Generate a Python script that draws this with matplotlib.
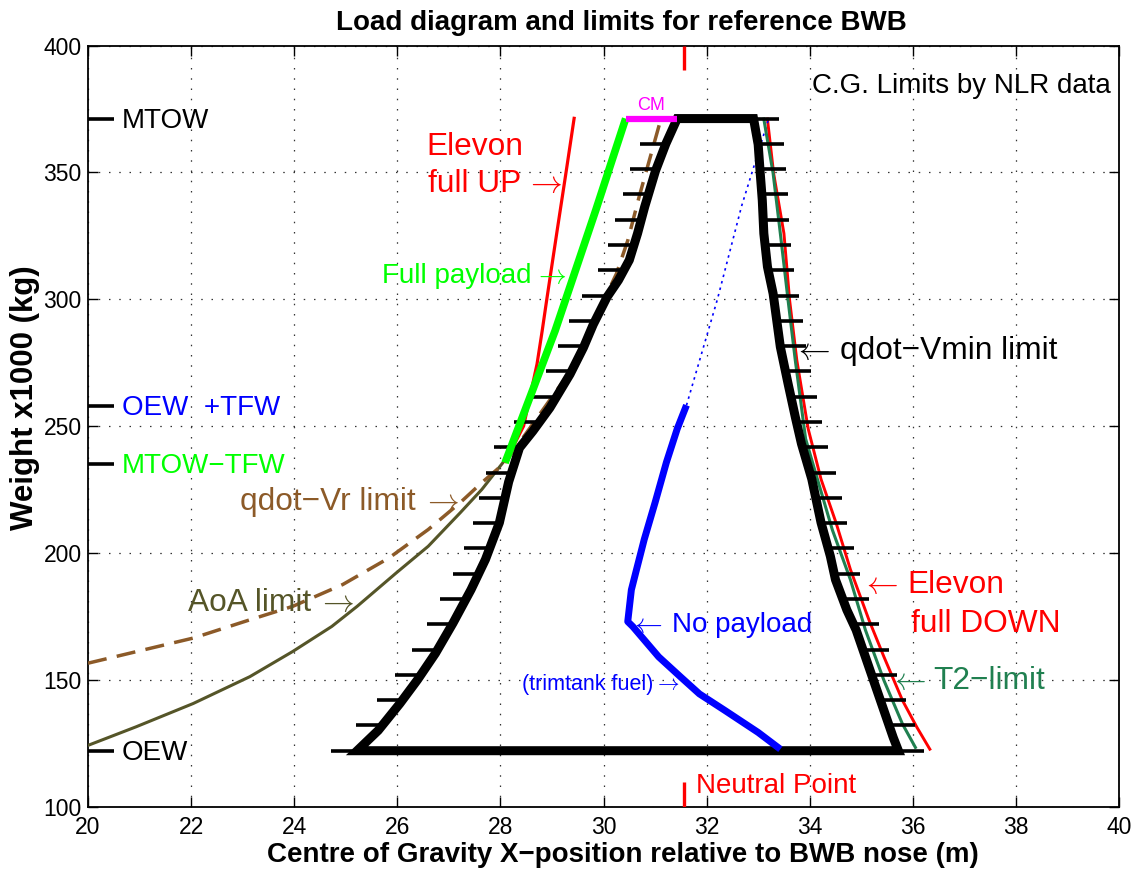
import numpy as np
import matplotlib
matplotlib.use("Agg")
import matplotlib.pyplot as plt
from matplotlib.patches import Polygon

plt.rcParams['font.family'] = ['Liberation Sans', 'DejaVu Sans']
plt.rcParams['axes.unicode_minus'] = True
plt.rcParams['mathtext.fontset'] = 'cm'

RARR = r'$\rightarrow$'
LARR = r'$\leftarrow$'

# Reference weights (x1000 kg)
OEW = 122.0
MTOW = 371.2
TFW = 136.0
neutral_point = 31.57

# Loading envelope: forward boundary (bottom -> top), aft boundary (top -> bottom)
fwd_x = [25.22, 25.63, 26.05, 26.39, 26.74, 27.08, 27.43, 27.71, 27.98, 28.16,
         28.37, 28.63, 28.96, 29.35, 29.61, 29.80, 30.07, 30.29, 30.50, 30.66,
         30.80, 31.01, 31.21, 31.43]
fwd_w = [122.0, 130.0, 140.6, 149.9, 160.4, 172.3, 185.5, 197.4, 211.9, 228.0,
         241.4, 248.0, 257.2, 270.4, 280.9, 290.0, 300.9, 307.5, 315.4, 325.9,
         336.5, 350.7, 361.3, 371.2]
aft_x = [32.91, 33.00, 33.04, 33.08, 33.11, 33.18, 33.29, 33.36, 33.43, 33.58,
         33.72, 33.84, 34.04, 34.22, 34.40, 34.50, 34.72, 34.90, 35.08, 35.26,
         35.44, 35.62, 35.72]
aft_w = [371.2, 361.0, 349.6, 339.0, 325.9, 312.8, 302.2, 291.7, 281.2, 266.7,
         253.6, 243.0, 229.1, 211.9, 198.7, 189.4, 177.5, 169.6, 159.0, 148.4,
         137.8, 127.2, 122.0]

# Full payload loading line
full_x = [28.09, 28.60, 29.06, 29.50, 29.85, 30.15, 30.43]
full_w = [235.5, 262.8, 287.5, 314.0, 335.1, 353.8, 371.2]

# No payload loading (trim tank fuel), solid part and dotted extension
nopl_x = [33.43, 33.00, 32.36, 31.86, 31.50, 31.07, 30.57, 30.47, 30.54, 30.64,
          30.79, 31.00, 31.22, 31.43, 31.61]
nopl_w = [122.6, 129.2, 137.8, 144.4, 151.0, 159.0, 170.9, 172.9, 185.4, 193.4,
          205.3, 219.8, 235.7, 248.9, 258.2]
nopl_ext_x = [31.61, 32.21, 32.68, 33.20]
nopl_ext_w = [258.2, 300.0, 336.8, 370.9]

# Elevon full UP (forward limit)
elev_up_x = [28.10, 28.30, 28.45, 28.71, 28.81, 28.90, 29.10, 29.27, 29.43]
elev_up_w = [236.0, 244.0, 250.0, 274.4, 287.5, 300.0, 327.0, 349.6, 371.3]

# Elevon full DOWN (aft limit)
elev_dn_x = [33.18, 33.30, 33.50, 33.61, 33.75, 33.97, 34.22, 34.51, 34.79, 35.15,
             35.44, 35.80, 36.08, 36.33]
elev_dn_w = [371.0, 349.6, 325.9, 299.6, 275.9, 248.9, 229.0, 211.9, 193.4, 173.5,
             159.0, 141.8, 131.2, 122.6]

# T2 limit (aft)
t2_x = [33.11, 33.29, 33.43, 33.58, 33.72, 33.92, 34.15, 34.44, 34.79, 35.08,
        35.44, 35.80, 36.05]
t2_w = [371.0, 349.6, 325.9, 299.6, 275.9, 245.0, 229.0, 209.0, 189.4, 169.6,
        149.7, 132.5, 123.3]

# qdot-Vr limit (forward)
qvr_x = [20.00, 21.07, 22.04, 23.14, 23.97, 24.94, 25.84, 26.60, 27.22, 27.64,
         28.09, 28.60, 29.30, 29.90, 30.25, 30.47, 30.69, 31.11]
qvr_w = [156.5, 161.7, 166.4, 173.6, 178.9, 187.5, 198.0, 209.2, 219.8, 227.7,
         235.6, 250.0, 270.0, 295.0, 310.0, 323.1, 340.3, 370.8]

# Angle-of-attack limit (forward)
aoa_x = [20.00, 20.93, 22.04, 23.14, 23.97, 24.73, 25.22, 25.98, 26.60, 27.22,
         27.64, 28.05]
aoa_w = [124.1, 131.4, 140.6, 151.2, 161.1, 171.0, 178.9, 192.1, 202.6, 215.8,
         225.0, 235.6]

# Magenta CM bar at MTOW
cm_x = [30.43, 31.43]

# Axis ticks
xticks = np.arange(20, 41, 2)
yticks = np.arange(100, 401, 50)

RED = (1, 0, 0)
GREEN = (0, 1, 0)
BLUE = (0, 0, 1)
MAGENTA = (1, 0, 1)
BROWN = '#8c5a28'
OLIVE = '#555528'
TEAL = '#208050'

fig = plt.figure(figsize=(11.4, 8.72), dpi=100)
ax = fig.add_axes([0.0772, 0.0751, 0.9044, 0.8727])

ax.set_xlim(20, 40)
ax.set_ylim(100, 400)
ax.set_xticks(xticks)
ax.set_yticks(yticks)
ax.tick_params(direction='in', length=7, width=1, top=True, right=True,
               labelsize=16.5)
ax.tick_params(axis='x', pad=7)
ax.tick_params(axis='y', pad=4.5)
for s in ax.spines.values():
    s.set_linewidth(1.3)
ax.grid(True, color='0.2', linestyle=(0, (1.2, 7)), linewidth=0.9)
ax.set_axisbelow(True)

# thin limit lines
ax.plot(aoa_x, aoa_w, color=OLIVE, lw=2.2, zorder=3)
ax.plot(qvr_x, qvr_w, color=BROWN, lw=2.5, linestyle=(0, (5.5, 3.0)), zorder=3)
ax.plot(elev_up_x, elev_up_w, color=RED, lw=2.3, zorder=3)
ax.plot(elev_dn_x, elev_dn_w, color=RED, lw=2.1, zorder=3)
ax.plot(t2_x, t2_w, color=TEAL, lw=2.2, zorder=3.1)
ax.plot(nopl_ext_x, nopl_ext_w, color=BLUE, lw=1.2, linestyle=(0, (1.5, 2.5)),
        zorder=3)

# loading envelope with hatch marks
env = np.column_stack([np.r_[fwd_x, aft_x], np.r_[fwd_w, aft_w]])
ax.add_patch(Polygon(env, closed=True, fill=False, edgecolor='k', lw=6.5,
                     joinstyle='miter', zorder=4))
tick_w = np.linspace(OEW, MTOW, 26)
tick_fwd = np.interp(tick_w, fwd_w, fwd_x)
tick_aft = np.interp(tick_w, aft_w[::-1], aft_x[::-1])
ax.hlines(tick_w, tick_fwd - 0.5, tick_fwd, color='k', lw=2.6, zorder=4)
ax.hlines(tick_w, tick_aft, tick_aft + 0.5, color='k', lw=2.6, zorder=4)

# loading lines
ax.plot(full_x, full_w, color=GREEN, lw=5.5, solid_capstyle='butt', zorder=5)
ax.plot(nopl_x, nopl_w, color=BLUE, lw=5, solid_capstyle='butt', zorder=5)
ax.plot(cm_x, [MTOW, MTOW], color=MAGENTA, lw=4.5, solid_capstyle='butt', zorder=5)
ax.text(np.mean(cm_x), MTOW + 3.2, 'CM', color=MAGENTA, fontsize=13, ha='center')

# neutral point markers
ax.plot([neutral_point, neutral_point], [390.3, 400], color=RED, lw=2.4,
        solid_capstyle='butt', zorder=5)
ax.plot([neutral_point, neutral_point], [100, 109.5], color=RED, lw=2.4,
        solid_capstyle='butt', zorder=5)
ax.text(31.79, 105.4, 'Neutral Point', color=RED, fontsize=20)

# weight reference marks
marks = [MTOW, OEW + TFW, MTOW - TFW, OEW]
ax.hlines(marks, 20, 20.5, color='k', lw=2.6, zorder=5)
ax.text(20.65, MTOW - 3.8, 'MTOW', color='k', fontsize=20)
ax.text(20.65, OEW + TFW - 3.8, 'OEW  +TFW', color=BLUE, fontsize=20)
ax.text(20.65, MTOW - TFW - 3.8, 'MTOW\u2212TFW', color=GREEN, fontsize=20)
ax.text(20.65, OEW - 3.8, 'OEW', color='k', fontsize=20)

BIG = 22.8  # limit-curve labels
MID = 20    # loading-line labels


def label(x, y, s, color, size):
    ax.text(x, y, s, color=color, fontsize=size, zorder=6)


def arrow(x, y, glyph, color, size):
    ax.text(x - 0.12, y, glyph, color=color, fontsize=size, zorder=6)


# curve annotations
label(26.57, 356.8, 'Elevon', RED, BIG)
label(26.60, 342.4, 'full UP', RED, BIG)
arrow(28.60, 342.4, RARR, RED, BIG)
label(25.70, 306.3, 'Full payload', GREEN, MID)
arrow(28.77, 306.3, RARR, GREEN, MID)
label(22.94, 216.8, 'qdot\u2212Vr limit', BROWN, BIG)
arrow(26.60, 216.8, RARR, BROWN, BIG)
label(21.94, 176.9, 'AoA limit', OLIVE, BIG)
arrow(24.56, 176.9, RARR, OLIVE, BIG)
arrow(33.79, 276.6, LARR, 'k', BIG)
label(34.58, 276.6, 'qdot\u2212Vmin limit', 'k', BIG)
arrow(35.12, 184.1, LARR, RED, BIG)
label(35.90, 184.1, 'Elevon', RED, BIG)
label(35.97, 168.9, 'full DOWN', RED, BIG)
arrow(30.64, 168.6, LARR, BLUE, MID)
label(31.32, 168.6, 'No payload', BLUE, MID)
label(28.41, 146.0, '(trimtank fuel)', BLUE, 15.5)
arrow(31.10, 146.0, RARR, BLUE, 15.5)
arrow(35.65, 146.4, LARR, TEAL, BIG)
label(36.40, 146.4, 'T2\u2212limit', TEAL, BIG)
ax.text(39.84, 381.4, 'C.G. Limits by NLR data', color='k', fontsize=20,
        ha='right')

ax.set_title('Load diagram and limits for reference BWB', fontsize=20,
             fontweight='bold', pad=11.5, x=0.517)
ax.set_xlabel('Centre of Gravity X\u2212position relative to BWB nose (m)',
              fontsize=20, fontweight='bold')
ax.xaxis.set_label_coords(0.519, -0.047)
ax.set_ylabel('Weight x1000 (kg)', fontsize=22.5, fontweight='bold')
ax.yaxis.set_label_coords(-0.0466, 0.537)

fig.savefig('out.png', dpi=100)
